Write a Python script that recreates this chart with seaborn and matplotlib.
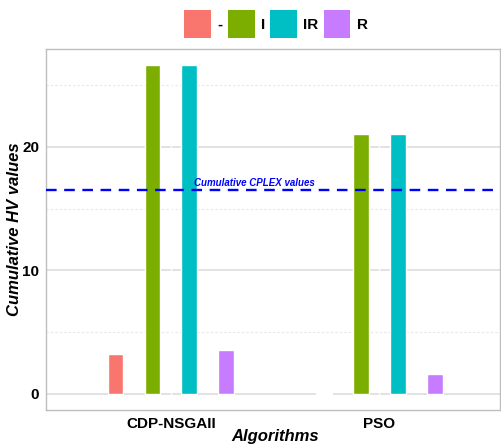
import numpy as np
import pandas as pd
import matplotlib
matplotlib.use("Agg")
import matplotlib.pyplot as plt
import seaborn as sns
from matplotlib.patches import Patch

# data
algorithms = ["CDP-NSGAII", "PSO"]
types = ["-", "I", "IR", "R"]
values_cdp = [3.25, 26.6, 26.6, 3.55]
values_pso = [0.1, 21.05, 21.05, 1.6]
cplex_value = 16.5
palette = ["#F8766D", "#7CAE00", "#00BFC4", "#C77CFF"]

df = pd.DataFrame({
    "Algorithm": np.repeat(algorithms, len(types)),
    "Type": types * len(algorithms),
    "Value": values_cdp + values_pso,
})

sns.set_theme(style="white")
plt.rcParams["font.family"] = ["Liberation Sans", "DejaVu Sans"]
plt.rcParams["text.color"] = "black"

fig = plt.figure(figsize=(5.02, 4.45), dpi=100)
ax = fig.add_axes([46 / 502, 35 / 445, 454 / 502, 361 / 445])

# grid: major solid, minor dotted
for y in [0, 10, 20]:
    ax.axhline(y, color="#DADADA", lw=1.1, zorder=0)
for y in [5, 15, 25]:
    ax.axhline(y, color="#E6E6E6", lw=0.8, ls=(0, (2, 2)), zorder=0)
for x in [0, 1]:
    ax.axvline(x, color="white", lw=1.0, zorder=0.5)

sns.barplot(data=df, x="Algorithm", y="Value", hue="Type", palette=palette,
            hue_order=types, order=algorithms, width=0.71, gap=0.57,
            saturation=1, errorbar=None, legend=False, ax=ax, zorder=2)

ax.axhline(cplex_value, color="#0000FF", lw=1.7, ls=(0, (4.5, 3.2)), zorder=3)
ax.text(0.40, cplex_value + 0.15, "Cumulative CPLEX values", color="#0000FF",
        fontsize=7, fontweight="bold", fontstyle="italic",
        ha="center", va="bottom", zorder=4)

ax.set_xlim(-0.6, 1.58)
ax.set_ylim(-1.3, 27.93)
ax.set_yticks([0, 10, 20])
ax.set_yticklabels(["0", "10", "20"], fontsize=11, fontweight="bold")
ax.set_xticklabels(algorithms, fontsize=11, fontweight="bold")
ax.tick_params(axis="both", length=3, width=0.8, pad=2,
               color="#B0B0B0", labelcolor="black")
ax.set_xlabel("Algorithms", fontsize=12, fontweight="bold", fontstyle="italic",
              color="black")
ax.set_ylabel("Cumulative HV values", fontsize=12, fontweight="bold",
              fontstyle="italic", color="black")
ax.xaxis.set_label_coords((275 - 46) / 454, -0.052)
ax.yaxis.set_label_coords(-0.052, 0.5)
for side in ax.spines.values():
    side.set_color("#BEBEBE")
    side.set_linewidth(1.0)
    side.set_visible(True)

handles = [Patch(facecolor=c, edgecolor="none", label=t)
           for c, t in zip(palette, types)]
fig.legend(handles=handles, loc="center", bbox_to_anchor=(276 / 502, 1 - 24 / 445),
           ncol=4, frameon=False, handlelength=1.75, handleheight=2.5,
           handletextpad=0.4, columnspacing=0.35,
           prop={"weight": "bold", "size": 11})

fig.savefig("out.png", dpi=100)
